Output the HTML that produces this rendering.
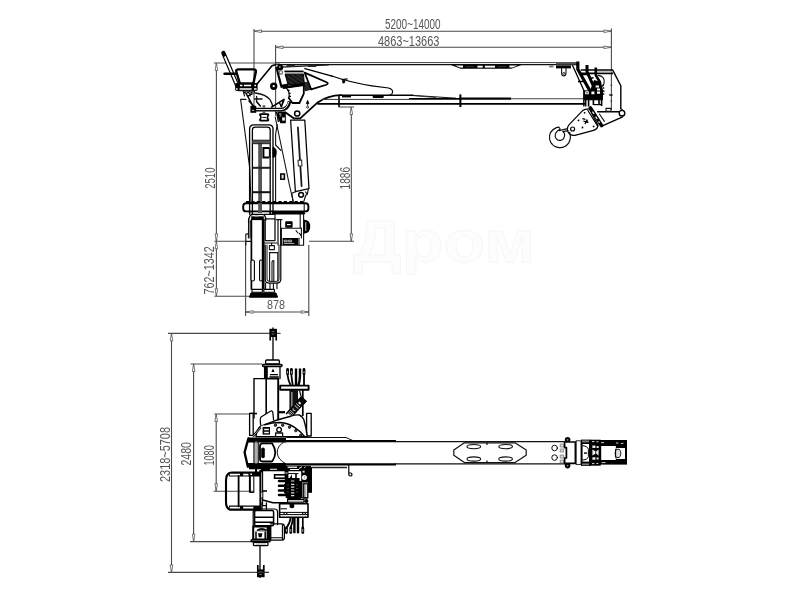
<!DOCTYPE html>
<html><head><meta charset="utf-8">
<style>
html,body{margin:0;padding:0;background:#fff;}
svg{display:block;}
text{font-family:"Liberation Sans",sans-serif;fill:#555;}
svg{filter:brightness(1);}
.d{stroke:#4a4a4a;stroke-width:1.1;fill:none;}
.a{stroke:#555;stroke-width:.8;fill:#fff;}
.k{stroke:#000;stroke-width:1.6;fill:none;stroke-linejoin:round;stroke-linecap:round;}
.m{stroke:#111;stroke-width:1.1;fill:none;stroke-linejoin:round;stroke-linecap:round;}
.t{stroke:#333;stroke-width:.8;fill:none;stroke-linejoin:round;}
.w{stroke:#000;stroke-width:1.3;fill:#fff;stroke-linejoin:round;}
.f{fill:#000;stroke:none;}
.g{fill:#666;stroke:none;}
</style></head><body>
<svg width="800" height="600" viewBox="0 0 800 600">
<rect width="800" height="600" fill="#fff"/>
<text x="353" y="262" font-size="60" font-weight="bold" textLength="182" lengthAdjust="spacingAndGlyphs" style="fill:#fdfdfd;stroke:#f7f7f7;stroke-width:1">Дром</text>
<!--DIMS-->
<g id="dims">
<path class="d" d="M254 29V108M275.6 45V116M611.4 28.5V110M254 31.2H611.4M275.6 47.3H611.4"/>
<path class="d" d="M214 63H280M216.4 63V296.3M214.4 241.3H245.6M309 241.3H354M214.4 296.3H251M339 97.5V107H354M351.3 107V241.3"/>
<path class="d" d="M245.6 241V316M308.8 245V316M245.6 312H308.8"/>
<path class="a" d="M254 31.2l7.5-1.300v2.600zM611.4 31.2l-7.500-1.300v2.600zM275.6 47.3l7.5-1.300v2.600zM611.4 47.3l-7.500-1.300v2.600z"/>
<path class="a" d="M216.4 63l-1.300 7.500h2.600zM216.4 241.3l-1.300-7.500h2.600zM216.4 241.3l-1.300 7.500h2.600zM216.4 296.3l-1.300-7.500h2.600zM351.3 107l-1.300 7.500h2.600zM351.3 241.3l-1.300-7.500h2.600z"/>
<path class="a" d="M245.6 312l7.5-1.300v2.600zM308.8 312l-7.500-1.300v2.600z"/>
<text x="385" y="29.4" font-size="14.6" textLength="55.6" lengthAdjust="spacingAndGlyphs">5200~14000</text>
<text x="378" y="45.6" font-size="14.6" textLength="61.4" lengthAdjust="spacingAndGlyphs">4863~13663</text>
<text x="267" y="309.4" font-size="13.2" textLength="18" lengthAdjust="spacingAndGlyphs">878</text>
<text transform="translate(215 188.8) rotate(-90)" font-size="14.6" textLength="21.3" lengthAdjust="spacingAndGlyphs">2510</text>
<text transform="translate(350 189.4) rotate(-90)" font-size="14.6" textLength="22.4" lengthAdjust="spacingAndGlyphs">1886</text>
<text transform="translate(214.4 294.4) rotate(-90)" font-size="14.6" textLength="48" lengthAdjust="spacingAndGlyphs">762~1342</text>
</g>
<g id="side">
<!-- seat & lever -->
<path d="M223.400 53L237.800 86.800" stroke="#000" stroke-width="4.300" fill="none" stroke-linecap="round"/>
<path d="M224.800 56.400L237.600 86.400" stroke="#fff" stroke-width="1.900" fill="none"/>
<path d="M224.6 73.8H235" stroke="#000" stroke-width="2.6" stroke-linecap="round" fill="none"/>
<path class="k" d="M236.4 72Q235.6 69.4 238.6 69.4H253.4Q256.4 69.4 255.8 72L253.4 83.4H239.8Z" style="stroke-width:2.4"/>
<rect x="235.200" y="82.900" width="22.400" height="8" rx="1.400" fill="#000"/><path d="M240 85.500H242.400M244 85.500H251M254.400 85.500H256" stroke="#fff" stroke-width="1.700"/><path d="M236 89H237.600M239.600 89H251.600M254 89H256.600" stroke="#fff" stroke-width="1.600"/>
<path class="m" d="M238 90.6H255M243 90.6L244.5 96M249.4 90.6L250 96"/>
<path d="M244 92.4H255" stroke="#000" stroke-width="2"/>
<path d="M245.6 92.4l1.6 0M249 92.4l1.600 0M252.400 92.400l1.400 0" stroke="#aaa" stroke-width="1"/>
<path d="M245.800 93L253.400 106.600M248.600 100.400L254.800 107.400M247 96.600L252.600 93.600M256.200 101.200L260.800 106.600" stroke="#000" stroke-width="1.500" fill="none"/>
<!-- bracket plate -->
<path class="k" d="M257 84L272 65.800L276 64.500"/>
<circle cx="273.700" cy="86.200" r="2.400" class="k" style="stroke-width:2.600"/>
<path class="m" d="M255.500 93Q266 94.600 270 99.600Q272 103 272.800 106.400" style="stroke-width:1.300"/>
<path class="m" d="M254.600 99H262M256.600 96.400V101.600" style="stroke-width:1.300"/>
<!-- handrail tube -->
<path d="M251 109.600H281Q288 109.600 289.600 101.400" stroke="#000" stroke-width="3.600" fill="none"/>
<path d="M255 109.600H281Q286.800 109.400 288.600 102" stroke="#fff" stroke-width="1" fill="none"/>
<rect x="250.400" y="105.800" width="5.800" height="7" class="f"/>
<rect x="251.800" y="109.800" width="2.400" height="1.200" fill="#999"/>
<rect x="262.600" y="105.200" width="2.600" height="2.400" fill="#555"/>
<rect x="262.600" y="111.400" width="2.600" height="2" fill="#555"/>
<path d="M271.200 107.400L284 99.400L281.200 107" stroke="#000" stroke-width="1.700" fill="none" stroke-linejoin="round"/>
<path d="M279.400 102.600L281.600 107.200" stroke="#000" stroke-width="1.300"/>
<path d="M260.400 115.400Q259 114.200 261 114.200H267.400Q269.200 114.200 268 115.600Q266.800 117.400 268 119.200Q269.200 120.600 267.400 120.600H261Q259 120.600 260.400 119.200Q261.600 117.400 260.400 115.400Z" fill="#fff" stroke="#000" stroke-width="1.700"/>
<path d="M262.400 117.400H266" stroke="#000" stroke-width="1"/>
<!-- column -->
<path class="m" d="M240.600 99.400H246M240.600 99.400L249.700 168L251 203"/>
<path class="m" d="M275.200 117L289.400 185L293.600 203"/>
<path class="m" d="M277.200 124.600L275.600 134.500V145L281 150.500M275.600 150V203"/>
<path d="M277.600 111.400H285.800V123.200H280.400L277.600 117.400Z" fill="#000"/>
<path d="M279.200 113h2.200v3.600h-2.200z" fill="#777"/><path d="M282.200 117.400h2.600v3.200h-2.600z" fill="#fff"/>
<path d="M275.600 112.400L279.800 116.400M276.600 111.800L278.400 122" stroke="#000" stroke-width="1.300"/>

<rect x="280.800" y="174" width="3.600" height="5.200" fill="#ddd" stroke="#000" stroke-width="1.500"/>
<!-- ladder -->
<path class="k" d="M249.6 214V129Q249.6 124.8 253.8 124.8H268.8Q273 124.8 273 129V214" style="stroke-width:1.3"/>
<path class="k" d="M252.4 214V130Q252.4 127.2 255.2 127.2H267.4Q270.2 127.2 270.2 130V214" style="stroke-width:1.3"/>
<rect x="258.2" y="143" width="3.8" height="70" fill="#555"/>
<rect x="252.400" y="140.200" width="18" height="3.400" fill="#555"/><path d="M252.400 140.200H270.400M252.400 143.700H270.400" stroke="#111" stroke-width=".900"/>
<rect x="252.4" y="166.8" width="17.8" height="2" fill="#222"/>
<rect x="252.4" y="191.2" width="17.8" height="2" fill="#111"/>
<path d="M269.400 148H263.400V157.400H269.400" fill="#fff" stroke="#000" stroke-width="2"/><path d="M269.400 148V157.400" stroke="#000" stroke-width="1"/>
<path d="M273 147.400H274Q276.400 149 276.200 152.400Q276.400 156 274 157.400H273Z" fill="#000" stroke="#000" stroke-width="1"/>
<!-- cylinder -->
<path class="k" d="M290.600 120.200H304.800L309 188.600L295.400 191.600Z" style="stroke-width:1.250"/>
<path d="M297.900 127.500L301.600 186" stroke="#1a1a1a" stroke-width="1.800" fill="none" stroke-linecap="round"/>
<rect x="298.2" y="160.2" width="3.6" height="5.8" fill="#fff" stroke="#222" stroke-width="1" transform="rotate(-3 300 163)"/>
<path class="m" d="M296.600 191.300L291.800 193.200L293 201.400M308.400 188.800L307.200 194.400L305.800 195.200L303.800 201.400M305.600 192l1.600 2.400" style="stroke-width:1.200"/>
<circle cx="301.100" cy="194.800" r="2.400" class="w" style="stroke-width:1.500"/>
<!-- slew ring -->
<path d="M246 201.800H304" stroke="#000" stroke-width="1.600" stroke-dasharray="3.200 2.200" fill="none"/><path d="M246 202.800H304" stroke="#000" stroke-width="1.600" fill="none"/>
<rect x="243.2" y="203.2" width="65.2" height="8.2" rx="3" class="w" style="stroke-width:1.9"/><path d="M304.2 203.4V211.2" stroke="#000" stroke-width="1"/>
<path class="k" d="M249.6 203.2V214M252.4 203.2V214M270.2 203.2V214.4M273 203.2V214.4" style="stroke-width:1.3"/>
<rect x="258.2" y="203" width="3.8" height="10" fill="#555"/>
<!-- base box -->
<path class="k" d="M273 213.2H303.8" style="stroke-width:2.5"/>
<path class="m" d="M300.2 213.6V228M303.6 213.6V245.2H281.4V228.2H301"/>
<path d="M303.6 219.4Q310.6 220 310.2 226.6Q310.6 233.2 303.6 233.8Z" fill="#000"/>
<rect x="305" y="222" width="1.4" height="9" fill="#fff" opacity=".6"/>
<rect x="285.2" y="221.2" width="7.4" height="6.6" rx="1" class="f"/>
<rect x="287" y="224" width="3.8" height="1.2" fill="#fff"/>
<rect x="282.6" y="238" width="15.6" height="7" class="f"/>
<path d="M284.2 240.2h3v1.6h-3zM288.6 240.2h3v1.6h-3zM284 243.4h10.4" stroke="#fff" stroke-width=".7" fill="none"/>
<path class="m" d="M299 238V245M301.4 228V238M296 230.6l2 2.4M299.4 233.4l1.6 2.2"/>
<!-- outrigger leg -->
<path class="m" d="M248.600 222L248.400 238M250.200 221L250 238M245.800 245V234.400L248.400 233.600M245.800 241.400H250.600"/>
<path class="k" d="M248.600 222Q248.600 214.600 253 214.400H262.400Q265.600 214.600 265.800 220" style="stroke-width:1.400"/><path d="M251.200 218.200H263.800" stroke="#000" stroke-width="3.800"/><rect x="254.600" y="215.600" width="4" height="1.500" fill="#888"/>

<path class="k" d="M251.400 220V289" style="stroke-width:1.700"/>
<path d="M263.200 219V289" stroke="#000" stroke-width="2.800" fill="none"/>
<rect x="265.2" y="218.8" width="9.8" height="21.8" class="m" style="stroke-width:1.3"/>
<path class="m" d="M264.4 214.4H275V218.8"/>
<path class="m" d="M278 220V245M280.6 220V245M276.4 219.6H282" style="stroke-width:1.2"/>
<path class="m" d="M264.6 243H277M269.4 245.6h5v4h-5zM271.6 243v2.6"/>
<path class="k" d="M265.2 245V279Q265.2 283.2 269.4 283.2H276.6Q280.8 283.2 280.8 279V245" style="stroke-width:1.2"/>
<path class="m" d="M267 245V279Q267 281.4 269.6 281.4H276.4Q279 281.4 279 279V245" style="stroke-width:1"/>
<path class="m" d="M269.4 252.6H278M269.6 252.6V281M277.8 252.6V281"/>
<path class="m" d="M272 281V262Q272 260.6 273.8 260.6V281"/>
<rect x="251" y="260" width="3.4" height="21" rx="1.6" class="w" style="stroke-width:1.1"/>
<rect x="259.6" y="260" width="2.6" height="21" rx="1.2" class="w" style="stroke-width:1.1"/>
<path class="m" d="M265.6 283V288.8M270 283.4V288.8M273.4 283.4V288.8M277 283V288.8"/>
<rect x="252" y="289.4" width="10.4" height="2.8" class="w" style="stroke-width:1.1"/>
<rect x="263.8" y="289.4" width="10.6" height="2.8" class="w" style="stroke-width:1.1"/>
<path d="M251 293H276L277.6 297.2H249.4Z" fill="#000" stroke="#000" stroke-width="1" stroke-linejoin="round"/>
</g>

<g id="side2">
<!-- boom top lines -->
<path d="M276 62.6H578" stroke="#444" stroke-width="1" fill="none"/>
<path d="M277 64.6H578" stroke="#111" stroke-width="1.1" fill="none"/>
<path d="M556 63.4H578" stroke="#555" stroke-width="2.2" fill="none"/>
<path class="m" d="M276 67.400L328.300 64.900" style="stroke-width:1.300"/>
<path d="M286.600 66H295M308 65.800H316.300" stroke="#2a2a2a" stroke-width="2.200" fill="none"/>
<!-- link arm -->
<path d="M276.600 68L281.200 86" stroke="#000" stroke-width="2.200" fill="none"/>
<circle cx="280.200" cy="67.400" r="3" class="f"/>
<circle cx="279.800" cy="67" r=".900" fill="#999"/>
<circle cx="280.900" cy="72.400" r="1.700" fill="#fff" stroke="#666" stroke-width="1.100"/>
<path d="M280.400 86.500L288.400 85" stroke="#000" stroke-width="3" fill="none"/>
<!-- boom base casting upper outline -->
<path d="M284.400 71.400H303.600" stroke="#000" stroke-width="1.700"/>
<path d="M285 73H303.600" stroke="#999" stroke-width="1.100"/>
<path class="k" d="M305 68.600L332 76.100" style="stroke-width:1.500"/><path class="k" d="M331 75.800Q352 83 372 85.800L388.600 88Q393 89.400 392.600 92Q392.400 94.600 390 95.200" style="stroke-width:1.200"/>
<ellipse cx="343.600" cy="81.400" rx="1.500" ry="2" fill="#000"/>
<path d="M341.600 79.600L347.600 78.800" stroke="#000" stroke-width="1.200"/>
<!-- hatched dark area -->
<path d="M285.100 74.200H303.500L304.300 84L288.100 84.800Z" fill="#161616" stroke="#000" stroke-width="1"/>
<path d="M288 76.400l11 7.200M292 75l10.600 7M297 74.800l6.400 4.200M287.400 80l6.400 4.200" stroke="#555" stroke-width=".500"/>
<path d="M304.300 82.400L308.200 82.400L311 89.300L305.200 90.800Z" fill="#2a2a2a" stroke="#000" stroke-width=".800"/>
<!-- triangular cutout -->
<path class="k" d="M304.600 72.600L326.600 82.200Q329.200 83.600 326.400 84.800L311.200 89.400Z" style="stroke-width:1.700"/>
<!-- inner pentagon -->
<path class="k" d="M284 87.600L303.800 84.600V93.600L299.4 103H292.4L288.8 98" style="stroke-width:1.800"/>
<path d="M282.6 87.8L303.8 84.6" stroke="#000" stroke-width="2.6"/>
<path class="k" d="M286 87.6Q290.4 92 288.8 98" style="stroke-width:1.2"/>
<path d="M287.6 90.4h2M288.6 93.4h2M289 96.4h2" stroke="#000" stroke-width="1.2"/>
<!-- lower outline -->
<path class="k" d="M285.600 112.400L294 118.400H300.200L318 102.200Q328 95.600 341 95.200" style="stroke-width:1.800"/>
<circle cx="297.200" cy="113.500" r="2.600" class="w" style="stroke-width:1.500"/>
<path d="M307.6 100.4l-1.2 3.2h2.4zM307.6 103.6v2" stroke="#000" stroke-width=".9" fill="#000"/>
<circle cx="307.6" cy="107.2" r="1" fill="none" stroke="#000" stroke-width=".8"/>
<!-- boom lower lines -->
<path d="M339 95.400V106.800" stroke="#000" stroke-width="1.500"/>
<path class="k" d="M340 95.200H413"/><path d="M412 95.300L456 98.200" stroke="#111" stroke-width="1" fill="none"/>
<path d="M322 99.400H409" stroke="#333" stroke-width="1" fill="none"/>
<path d="M409 98.800H460" stroke="#000" stroke-width="1.700" fill="none"/><path d="M459 98.600H511" stroke="#000" stroke-width="2.400" fill="none"/>
<path d="M413 95.600L436 97.600" stroke="#222" stroke-width=".800" fill="none"/>
<path d="M511 98.8H585" stroke="#444" stroke-width="1.1" fill="none"/>
<path class="k" d="M318 103.8H584.6" style="stroke-width:1.7"/>
<path d="M460.4 94.4V107" stroke="#000" stroke-width="2" fill="none"/>
<rect x="372.6" y="95.4" width="11.2" height="2.6" rx="1.2" class="f"/>
<rect x="342" y="95.4" width="9" height="2" class="f"/>
<!-- top pad -->
<path d="M449.600 64.600L460.600 68.700H511.200L522.800 64.600Z" fill="#000"/>
<path d="M455 65.500H463V67.500L460 67.400ZM517.600 65.500H509.400V67.500L512.400 67.400Z" fill="#fff"/>
<rect x="477.400" y="65.700" width="5.300" height="1.900" fill="#fff"/>
<rect x="484.800" y="65.700" width="10.200" height="1.900" fill="#fff"/>
<path d="M466 66.600H474M498 66.600H506" stroke="#444" stroke-width=".800"/>
<!-- small bracket near head -->
<rect x="556" y="65.4" width="15" height="3" class="f"/>
<rect x="549" y="65.6" width="4.6" height="2" rx="1" fill="#777"/>
<path class="m" d="M561.6 68.4V73Q561.6 76 563.8 76Q566 76 566 73V68.4"/>
<circle cx="563.8" cy="73.4" r="1" fill="none" stroke="#000" stroke-width=".8"/>
<!-- boom head -->
<path class="k" d="M572.600 65.600L583.800 90.200V106" style="stroke-width:1.300"/>
<path d="M577.800 61.400V69.200L590.600 92" stroke="#000" stroke-width="3.200" fill="none" stroke-linejoin="round"/>
<path d="M587 65V71.600L596 92" stroke="#000" stroke-width="3" fill="none" stroke-linejoin="round"/>
<path d="M595.800 67.400V75.200L600.400 83" stroke="#000" stroke-width="2.600" fill="none" stroke-linejoin="round"/>
<path d="M580.800 70H613M580.800 73.400H613" stroke="#000" stroke-width="1.600" fill="none"/>
<path d="M597 71.700H612" stroke="#bbb" stroke-width="1.200"/>
<path d="M578 81.600H584M581 74.600H587.400M589 78.400l4.600-.6M592 84l3-.4" stroke="#000" stroke-width="1.500" fill="none"/>
<path class="k" d="M613 70.600L620.800 85.800V108.800" style="stroke-width:1.400"/>
<path class="m" d="M598.400 75.400Q604.400 76.400 604.200 81.600Q604 86.400 600.400 87.600"/>
<path d="M594 80L601 82L603 90.200V100.200H583.800V90.200L590 90.400Z" class="f"/>
<path d="M602.600 84.600l1.200 1M603 87.600l1.200 1M603 90.600l1.400 1M603 93.600l1.200 1" stroke="#000" stroke-width="1.300"/>
<path d="M585.200 91.200h3.600v3h-3.600zM591.400 91.600h3v2.600h-3zM597 91.400h3v2.400h-3zM595.600 85.400h3.400v2h-3.400zM597 88.600h3v1.800h-3z" fill="#fff"/>
<circle cx="587" cy="92.700" r=".700" class="f"/>
<path d="M585.600 100V106.600M588.600 100V106.600M593.400 100V105M599 100V105M601.600 100V106" stroke="#000" stroke-width="1.600"/>
<path d="M593.400 104.600H601.600" stroke="#000" stroke-width="1.200"/>
<path d="M609.200 95H612.600" stroke="#111" stroke-width="1.500"/><path d="M610.400 85.200h1.800M610.400 101h1.800" stroke="#333" stroke-width="1.100"/>
<!-- jib / triangle arm -->
<path d="M590.4 108L601.6 125.6" stroke="#000" stroke-width="3.6" fill="none" stroke-linecap="round"/>
<path d="M592.4 111.6l1.6 2.4M595.6 116.6l1.6 2.4M598.6 121.2l1 1.6" stroke="#fff" stroke-width="1.2"/>
<path d="M587.6 110L598 126.6" stroke="#000" stroke-width="1.2" fill="none"/>
<path class="k" d="M597.6 111.8H620M602.4 125.8L622.6 116.8" style="stroke-width:1.4"/>
<path class="m" d="M606 108.4h5v3h-5z"/>
<circle cx="622" cy="113.2" r="2.8" class="w" style="stroke-width:1.4"/>
<path class="m" d="M621.2 108.8L623.6 111M599.4 114l5 7.4"/>
<!-- hook block -->
<path class="k" d="M582.4 110.8Q585 108.6 589.4 108.8L598 125.4Q597.6 129.4 592.6 130.6L575 135.4Q569.4 136 567.6 131Q566.6 127.4 569.4 124.4Z" style="stroke-width:1.2"/>
<circle cx="572.6" cy="129" r="2" fill="#fff" stroke="#000" stroke-width="1.2"/>
<circle cx="584.6" cy="112.8" r=".9" class="f"/><circle cx="578.5" cy="120.4" r=".9" class="f"/><circle cx="582.5" cy="127.5" r=".9" class="f"/><circle cx="593.6" cy="126.4" r=".9" class="f"/>
<path d="M582.4 118.6l3 .8M583.4 121l4.4 1.4M585 124l1.6-3.4M586.6 119.6l1.4 3.4" stroke="#000" stroke-width="1.3" fill="none"/>
<!-- hook -->
<path class="m" d="M569.6 132.4Q571.6 138 568.6 143.2Q564.8 148.4 558.6 147.6Q551.4 146.4 549.6 139.4Q548.4 131 556.4 127.6L558.8 127.2L560.2 129Q554.6 132 555.2 136.6Q556.6 140.8 560.6 140.4Q565 139.4 564.6 133.6L563 131.6" style="stroke-width:1.2"/>
<path class="m" d="M559 130.6L567.6 128.6M563 131.6L568 130.6" style="stroke-width:1.2"/>
</g>

<g id="plandims">
<path class="d" d="M168 333.4H280.6M171.5 333.4V572.4M168 572.4H269"/>
<path class="d" d="M190.6 364H262.5" style="stroke-width:1.2"/>
<path class="d" d="M193.600 364V541.600M190 541.600H251M214.4 414H257M216.2 414V491.2M213.6 491.2H254"/>
<path class="a" d="M171.5 333.4l-1.300 7.500h2.600zM171.5 572.4l-1.300-7.500h2.600zM193.600 364l-1.300 7.500h2.600zM193.600 541.600l-1.300-7.500h2.600zM216.2 414l-1.300 7.500h2.600zM216.2 491.2l-1.300-7.500h2.600z"/>
<text transform="translate(170 482) rotate(-90)" font-size="14.6" textLength="55" lengthAdjust="spacingAndGlyphs">2318~5708</text>
<text transform="translate(191.2 465.6) rotate(-90)" font-size="14.6" textLength="23.6" lengthAdjust="spacingAndGlyphs">2480</text>
<text transform="translate(214.4 465.6) rotate(-90)" font-size="14.6" textLength="20.4" lengthAdjust="spacingAndGlyphs">1080</text>
</g>
<g id="plan">
<!-- outrigger top foot symbol -->
<path d="M273 327.400V360" stroke="#000" stroke-width="1.300"/>
<rect x="269.4" y="328.8" width="7.6" height="8.2" class="f"/>
<path d="M270.2 337V340.6M276.2 337V340.6" stroke="#000" stroke-width="1.7"/>
<path d="M271.6 331.6h2.8M271.6 334h2.8" stroke="#999" stroke-width=".7"/>
<!-- top outrigger cap -->
<rect x="265.6" y="360" width="13.8" height="4" rx="1.2" class="w" style="stroke-width:1.3"/>
<rect x="262.6" y="364.4" width="19.4" height="2" rx=".8" class="w" style="stroke-width:1.5"/>
<path class="k" d="M264.6 366.6V378.6M280 366.6V378.6" style="stroke-width:1.3"/>
<rect x="264.6" y="366.6" width="3.2" height="12" class="f"/>
<path d="M273 368.4l-1.6 3.6h3.2z" class="f"/>
<path d="M269.4 377H278.8M270 374.6H278" stroke="#000" stroke-width="1.4"/>
<!-- column boxes -->
<path class="k" d="M253.8 378.6H266.2M254 378.6V418" style="stroke-width:1.4"/>
<path class="k" d="M266.200 378.600V417M266.200 378.600H278" style="stroke-width:1.600"/><path class="k" d="M278.200 378.600V420" style="stroke-width:1.900"/>
<!-- valve levers top -->
<path d="M287.600 369V375Q288 380 290.600 385.400M291.400 369V375Q291.800 380 292.800 385.400M304 369V385.400" stroke="#000" stroke-width="1.800" fill="none"/><path d="M296 368.400V385.400M300 368.400V376Q299.800 381 298.400 385.400" stroke="#000" stroke-width="2.400" fill="none"/>
<path d="M287.600 369.400v4.400M291.400 369.400v4.400M304 369.400v4.400" stroke="#000" stroke-width="2.800" stroke-linecap="round"/>
<path d="M287.600 371.400v1.800M291.400 371.400v1.800M303.400 372.200h1.400" stroke="#aaa" stroke-width="1" stroke-linecap="round"/>
<rect x="280.200" y="385.600" width="28.400" height="4.200" class="w" style="stroke-width:1.900"/>
<!-- below valve plate -->
<path d="M302.800 390V416" stroke="#000" stroke-width="1.700"/>
<rect x="289.4" y="390" width="8.6" height="20" fill="#111"/>
<rect x="291" y="392" width="1.6" height="16" fill="#888"/>
<path d="M299.6 390.6L301 396" stroke="#000" stroke-width="1.2"/>
<!-- motor angled -->
<g transform="translate(-1 1.400) rotate(42 297 406)">
<rect x="294" y="395" width="6.200" height="22" fill="#111" stroke="#000" stroke-width="1.200"/>
<rect x="293.200" y="394" width="7.800" height="4.400" class="f"/>
<path d="M295.600 399.400h2.400v1.800h-2.400z" fill="#fff"/>
<path d="M294.600 403h5M294.600 405.400h5" stroke="#ddd" stroke-width=".900"/>
<path d="M295.400 408.600l1.600 1.400 1.600-1.400" stroke="#ccc" stroke-width=".900" fill="none"/>
<path d="M294.600 412h5M294.600 413.600h5M294.600 415.200h5" stroke="#ccc" stroke-width=".800"/>
<rect x="294.800" y="415.800" width="4.600" height="1.800" fill="#fff"/>
</g>
<!-- uprights -->
<rect x="249.6" y="413.4" width="3.6" height="22" class="w" style="stroke-width:1.3"/>
<rect x="306.6" y="413.4" width="4.6" height="22.6" class="w" style="stroke-width:1.3"/>
<path d="M250 413.4H257" stroke="#000" stroke-width="1.3"/>
<!-- dome -->
<path class="w" d="M256.400 433Q258.600 426.800 262 425Q274 420.600 290.800 416.200Q296.400 414.400 299.400 415Q302.600 416.400 303.800 419.600Q306.200 427 307.200 436.600H256Z" style="stroke-width:1.400"/>
<path class="w" d="M260.800 425.400Q259.600 419.200 261 417L270.400 411.200Q272.400 410.400 272.800 412.400L273.600 420.400" style="stroke-width:1.200"/>
<path d="M264.600 424.800Q272 422.400 280 422.400Q288.400 423 294.600 427.400Q301 431.600 305.400 437.400" class="k" style="stroke-width:1.500"/>
<circle cx="275.500" cy="425.200" r="1.200" fill="#555" stroke="#000" stroke-width=".900"/><circle cx="282.700" cy="425.200" r="1.200" fill="#555" stroke="#000" stroke-width=".900"/><circle cx="289.500" cy="427.200" r="1.200" fill="#555" stroke="#000" stroke-width=".900"/><circle cx="295.800" cy="430.600" r="1.200" fill="#555" stroke="#000" stroke-width=".900"/><circle cx="300.800" cy="435.200" r="1.200" fill="#555" stroke="#000" stroke-width=".900"/>
<rect x="262.600" y="427" width="7.400" height="7.600" class="f"/>
<path d="M264.200 429.400h4.600M264.200 432.400h4.600" stroke="#fff" stroke-width="1.500"/>
<circle cx="279.100" cy="429.700" r="2.300" class="w" style="stroke-width:1.300"/>
<path class="m" d="M275.600 436.400V433H282.600V436.400" style="stroke-width:1.300"/>
<path d="M253 436.400L260.600 427.200" stroke="#000" stroke-width="2.200"/><path d="M253.400 436L260.400 427.600" stroke="#bbb" stroke-width=".800"/>
<path d="M279 412.200H285" stroke="#000" stroke-width="2.200"/>
<!-- boom -->
<path d="M286 437.5H346L353.8 441" stroke="#111" stroke-width="1" fill="none"/>
<path d="M248 440H286" stroke="#000" stroke-width="4.800"/>
<path d="M285 441.200H396" stroke="#000" stroke-width="2.200"/>
<path d="M395 441.700H565" stroke="#111" stroke-width="1.300"/>
<path d="M247.600 465.300H286" stroke="#000" stroke-width="4.400"/>
<path d="M285 464.300H396" stroke="#000" stroke-width="2.300"/>
<path d="M395 463.800H565" stroke="#111" stroke-width="1.300"/>
<path d="M311 467.600H347" stroke="#222" stroke-width="1.500"/>
<path class="k" d="M348.8 464.6V474.6Q348.8 476 350.4 476Q352 476 352 474.4Q352 473 350.4 473H349" style="stroke-width:1.2"/>
<!-- end cap -->
<path class="k" d="M248.400 438.400L244.600 452.400L247.800 466.600" style="stroke-width:2.300"/>
<path d="M254 441V464M258.200 441V464" stroke="#000" stroke-width="1.200"/>
<path d="M256 441V464" stroke="#777" stroke-width="1.200"/>
<path class="k" d="M260 446Q260 443.400 262.400 443.400H272.200Q275.200 448 275.300 452.400Q275.200 457 272.200 461.400H262.400Q260 461.400 260 459Z" style="stroke-width:1.800"/>
<rect x="261.2" y="447.4" width="3.6" height="10.8" rx="1.8" class="f"/>
<path d="M262 462.6H272" stroke="#777" stroke-width="1.2"/>
<path class="m" d="M285.6 440.8Q277 445.6 277.2 452.6Q277.4 459.4 286.4 464.2" style="stroke-width:1"/>

<!-- octagon plate with ovals -->
<path class="m" d="M453.8 450L464.4 442.8H515L526.2 450V455.2L515 462.6H464.4L453.8 455.2Z" style="stroke-width:1.2"/>
<ellipse cx="473.8" cy="446.6" rx="6.8" ry="2.1" class="m" style="stroke-width:1.1"/><ellipse cx="505.6" cy="446.6" rx="6.8" ry="2.1" class="m" style="stroke-width:1.1"/><ellipse cx="473.8" cy="459" rx="6.8" ry="2.1" class="m" style="stroke-width:1.1"/><ellipse cx="505.6" cy="459" rx="6.8" ry="2.1" class="m" style="stroke-width:1.1"/>
<path d="M487 442.4V445M487 460.4V463" stroke="#000" stroke-width="1.1"/>
<!-- boom head plan -->
<circle cx="554.6" cy="448" r="2.8" class="m" style="stroke-width:1"/><circle cx="554.6" cy="457.6" r="2.8" class="m" style="stroke-width:1"/>
<path d="M560.2 444h3.4v3h-3.4zM560.2 449h3.4v3h-3.4zM560.2 455h3.4v3h-3.4zM560.2 460h3.4v3h-3.4z" fill="#ddd" stroke="#555" stroke-width=".6"/>
<circle cx="567.6" cy="439.8" r="2.8" class="f"/><circle cx="567.6" cy="465.6" r="2.8" class="f"/>
<circle cx="567.6" cy="439.8" r=".9" fill="#888"/><circle cx="567.6" cy="465.6" r=".9" fill="#888"/>
<path class="k" d="M564.6 442H575.4V463.4H564.6V458H566.4V447.6H564.6Z" style="stroke-width:1.7;fill:#fff"/>
<rect x="576.2" y="440.8" width="4.8" height="23.6" fill="#fff" stroke="#111" stroke-width=".9"/>
<rect x="581" y="439.6" width="9.6" height="26.4" class="f"/>
<rect x="582.6" y="444" width="6.4" height="17.6" fill="#fff"/>
<path d="M582.6 445.6Q588 446.4 588.4 449.4V456.4Q588 459.6 582.6 460" stroke="#000" stroke-width="1" fill="none"/>
<rect x="582" y="440.4" width="7" height="2" fill="#777"/><rect x="582" y="463.4" width="7" height="2" fill="#777"/>
<path d="M584 452.4h3v1.4h-3z" class="f"/>
<rect x="590.600" y="440.400" width="9.400" height="24.600" fill="#000" stroke="#000" stroke-width="1.400"/>
<path d="M592 441.600h2.400M596.400 441.800h2M592 463.600h2.400M596.400 463.400h2" stroke="#ddd" stroke-width="1"/>
<path d="M592.400 445.400h3v2.600h-3zM596.600 446h2v2h-2zM592.400 449.600l3 1.600v2.600l-3 1.600zM598.600 449.600l-2.400 1.600v2.600l2.400 1.600zM592.400 457.200h3v2.600h-3zM596.600 457.400h2v2h-2z" fill="#eee"/>
<rect x="599.4" y="440" width="27.6" height="24.6" class="f"/>
<rect x="601.2" y="446" width="14.6" height="14" fill="#fff"/>
<rect x="616.4" y="448" width="8.6" height="11" fill="#fff"/>
<ellipse cx="618" cy="453.4" rx="2.8" ry="4.2" fill="#ddd" stroke="#000" stroke-width=".9"/>
<path d="M615.6 449v8.6" stroke="#000" stroke-width="1"/>
<path d="M601 442.6h3M616 443h2.4M621 443.4h2.4M601.6 462.6h4" stroke="#fff" stroke-width=".8"/>
</g>

<g id="plan2">
<!-- under-boom dark band & bits -->
<path d="M249 468H276" stroke="#000" stroke-width="2.6"/><path d="M256 466V472M262 468V472" stroke="#000" stroke-width="2"/>
<path d="M270 468.6H284M288 468.4H300" stroke="#000" stroke-width="1.4"/>
<path d="M281.6 466.4v4M285.6 466.4v4" stroke="#000" stroke-width="1.2"/>
<!-- engine housing -->
<path class="k" d="M260.4 472.6H232Q226 472.8 226 480V502Q226 509.8 232 509.8H260.4" style="stroke-width:2.1"/>
<path d="M229 474.400H260.400M229 507.600H260.400" stroke="#000" stroke-width="4"/>
<path d="M229.800 474.600H240M243.200 474.600H248.400M250.400 474.200h1.600M229.800 507.600H240M243.200 507.600H253.400" stroke="#fff" stroke-width="1.600"/>
<path class="k" d="M238.600 476V506.400" style="stroke-width:1.800"/>
<path class="m" d="M250 476V492.400H253.800V476"/><path d="M249.800 476V492.400" stroke="#000" stroke-width="1.800"/>
<path d="M260.4 470V510.6" stroke="#000" stroke-width="2"/>
<path d="M262.6 470V505" stroke="#000" stroke-width="1.1"/>
<rect x="260.8" y="492" width="2" height="6" fill="#fff" stroke="#000" stroke-width=".8"/>
<path d="M262.6 491H267" stroke="#000" stroke-width="1.6"/>
<!-- main body box -->
<path d="M262.600 465.800H311V471.200H262.600Z" fill="#000"/>
<path d="M270 469.200H277M290 469.500H299" stroke="#fff" stroke-width="1.100"/>
<path d="M287.600 467.200H297" stroke="#fff" stroke-width="1.300"/>
<path d="M299 468.400l3-1.600M303.600 468.600l2-1.800" stroke="#fff" stroke-width=".900"/>
<path class="k" d="M262.600 500L273 502.800H288" style="stroke-width:1.600"/>
<path d="M310 468V492.800" stroke="#000" stroke-width="4"/>
<rect x="274.600" y="474.800" width="12.400" height="3.400" fill="#fff" stroke="#000" stroke-width="1.600"/>
<path d="M279 481H285M279 485.800H285M279 490.400H285M279 495H285" stroke="#000" stroke-width="2.500" stroke-linecap="round"/>
<path d="M284 478H299.600V481H302V498L300 499.600H288.600L285.600 497.400V494L284 493V484.600L285 483.400V479.400Z" class="f"/>
<path d="M284.600 471H288.400V478.400H284.600Z" class="f"/>
<path d="M285.400 472.400h2.200v1.200h-2.200z" fill="#ccc"/>
<path d="M289.400 478.200l2.600-3.600v3.600z" class="f"/>
<path d="M288 473.600H298.400" stroke="#000" stroke-width="1"/><path d="M296 474V478" stroke="#000" stroke-width="1.600"/>
<path d="M291 481h3.300M291 484.400h3.300M291 487.200h3.300M291 490h3.300M291 492.800h3.300M291 495.600h3.300" stroke="#ddd" stroke-width="1.200"/>
<path d="M288 484.600v1M288 488v1M288 491.400v1M297 484.600v1M297 488v1M297 491.400v1" stroke="#888" stroke-width=".900"/>
<path d="M301.200 468H310V482.600H301.200Z" class="f"/>
<circle cx="304.400" cy="477.400" r="2.500" fill="#fff"/>
<path d="M304.400 476v2.800" stroke="#999" stroke-width=".800"/>
<path d="M302.600 470.600h2v2h-2z" fill="#ddd"/>
<path d="M303 483V498" stroke="#000" stroke-width="1.100"/>
<rect x="303.800" y="483.800" width="4" height="14" fill="#fff" stroke="#000" stroke-width="1.300"/>
<path d="M305.800 485V497" stroke="#777" stroke-width=".800"/>
<rect x="287.600" y="499.600" width="16.400" height="2.600" fill="#fff" stroke="#000" stroke-width="1.200"/>
<circle cx="306.400" cy="501" r="2" class="f"/>
<path d="M302 498H308" stroke="#000" stroke-width="1.200"/>
<!-- bottom valve box -->
<rect x="279.6" y="503.800" width="28.400" height="13.400" class="w" style="stroke-width:1.600"/>
<path d="M280 512.400H308M280 514.600H308" stroke="#000" stroke-width="1"/>
<path d="M283.400 513.400h1.400M286 513.400h1.400M302 513.400h1.400M304.600 513.400h1.400" stroke="#000" stroke-width="1"/>
<path d="M289.600 503.800h4.600v3.400q-2.300 2-4.600 0z" class="f"/>
<path d="M280.400 508.800H287" stroke="#000" stroke-width="1"/>
<!-- hoses/levers bottom -->
<path d="M290.600 517.400Q290.200 523 286.400 528V533M292.800 517.400Q292.600 523 290.800 527.400V533M302.800 517.400V533" stroke="#000" stroke-width="1.700" fill="none"/>
<path d="M294.400 517.400V533.200M298 517.400V533.200" stroke="#000" stroke-width="2.400" fill="none"/>
<path d="M286.400 528v4.600M290.800 528v4.600M302.800 528v4.600" stroke="#000" stroke-width="2.800" stroke-linecap="round"/>
<path d="M286.400 529.400v2M290.800 529.400v2M302.800 529.400v2" stroke="#aaa" stroke-width="1" stroke-linecap="round"/>
<!-- tank box -->
<path class="k" d="M262 503V509M266.400 503V509M262 505.600H266.400" style="stroke-width:1.300"/>
<rect x="254.600" y="510.400" width="19" height="15.400" rx="1.600" class="w" style="stroke-width:1.500"/>
<path d="M255 517.300H273.400M255 522.300H273.400" stroke="#000" stroke-width="1.500"/>
<path class="k" d="M253.200 526V512Q253.200 509 256 509H274.600Q277.600 509 277.600 512V524.600" style="stroke-width:1.200"/>
<!-- right box -->
<path class="k" d="M270.400 523.800H281.400Q284.400 523.800 284.400 526.600V537.400Q284.400 540.200 281.400 540.200H270.400" style="stroke-width:1.300"/>
<path class="k" d="M282.400 525V539M271 537.800H282" style="stroke-width:1.100"/>
<!-- lower outrigger box -->
<rect x="253.200" y="526.400" width="17.200" height="13" class="w" style="stroke-width:2"/>
<path d="M268.400 526.400V539.400" stroke="#000" stroke-width="3.600"/>
<path d="M257 530.600Q261.800 527 266.600 530.600" stroke="#000" stroke-width="1.800" fill="none"/>
<path d="M258.400 530.800H265" stroke="#555" stroke-width="1.200"/>
<path d="M258 533.200h4.400l-.8 4h-2.800z" class="f"/>
<path d="M256 531.400V539M265.200 531.400V539" stroke="#000" stroke-width="1.500"/>
<rect x="251.200" y="539.800" width="18.800" height="2" rx=".800" fill="#999" stroke="#000" stroke-width="1.500"/>
<rect x="253.400" y="542.400" width="14.600" height="3.200" rx="1.200" class="w" style="stroke-width:1.300"/>
<path d="M255.400 544H266" stroke="#888" stroke-width=".900"/>
<!-- center line & bottom foot -->
<path d="M260 545.400V578" stroke="#000" stroke-width="1.300"/>
<rect x="257" y="569.400" width="7.600" height="7.800" class="f"/>
<path d="M257.800 565V570M263.800 565V570" stroke="#000" stroke-width="1.700"/>
<path d="M259.200 572h3M259.200 574.400h3" stroke="#999" stroke-width=".7"/>
<path d="M256 572.400H269" stroke="#333" stroke-width="1"/>
</g>

</svg>
</body></html>
